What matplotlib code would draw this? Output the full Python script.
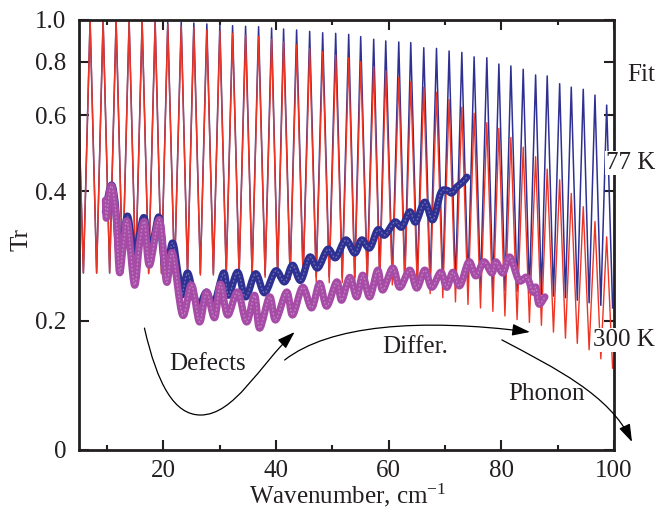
import matplotlib
matplotlib.use("Agg")
import numpy as np
import matplotlib.pyplot as plt
from matplotlib.path import Path
from matplotlib.patches import FancyArrowPatch, PathPatch
from matplotlib.ticker import FixedLocator, FixedFormatter, MultipleLocator, NullLocator

plt.rcParams['font.family'] = ['Liberation Serif', 'DejaVu Serif']
plt.rcParams['mathtext.fontset'] = 'custom'
plt.rcParams['mathtext.rm'] = 'Liberation Serif'
plt.rcParams['mathtext.it'] = 'Liberation Serif:italic'

# ---------------- data ----------------
# Fabry-Perot fit curves: positions of the fringe maxima / minima
fit_start_x = 5.0
fit_start_v = 0.58
fit_peak_x = [6.97, 9.28, 11.59, 13.90, 16.21, 18.52, 20.76, 23.15, 25.39, 27.70,
              30.01, 32.27, 34.58, 36.89, 39.20, 41.33, 43.64, 45.96, 48.27, 50.58,
              52.89, 55.02, 57.33, 59.47, 61.78, 63.91, 66.22, 68.48, 70.72, 72.98,
              75.16, 77.42, 79.56, 81.69, 83.88, 86.08, 88.14, 90.35, 92.41, 94.54,
              96.62, 98.70]
fit_trough_x = [5.78, 8.13, 10.44, 12.75, 15.06, 17.37, 19.64, 21.96, 24.27, 26.55,
                28.86, 31.14, 33.43, 35.74, 38.05, 40.27, 42.49, 44.80, 47.12, 49.43,
                51.74, 53.96, 56.18, 58.40, 60.63, 62.85, 65.07, 67.35, 69.60, 71.85,
                74.07, 76.29, 78.49, 80.63, 82.79, 84.98, 87.11, 89.25, 91.38, 93.48,
                95.58, 97.66, 99.75]
fit77_peak_v = [1.0, 1.0, 1.0, 0.998, 0.995, 0.992, 0.990, 0.989, 0.984, 0.979,
                0.974, 0.970, 0.967, 0.965, 0.958, 0.953, 0.948, 0.941, 0.934, 0.931,
                0.926, 0.915, 0.902, 0.894, 0.889, 0.886, 0.862, 0.859, 0.847, 0.841,
                0.821, 0.817, 0.790, 0.782, 0.768, 0.745, 0.741, 0.711, 0.698, 0.690,
                0.669, 0.634]
fit77_trough_v = [0.258, 0.258, 0.258, 0.258, 0.258, 0.258, 0.258, 0.257, 0.257, 0.257,
                  0.257, 0.256, 0.256, 0.256, 0.255, 0.255, 0.254, 0.254, 0.253, 0.253,
                  0.252, 0.252, 0.251, 0.251, 0.250, 0.250, 0.248, 0.246, 0.244, 0.242,
                  0.240, 0.238, 0.236, 0.235, 0.234, 0.232, 0.230, 0.228, 0.226, 0.223,
                  0.220, 0.217, 0.214]
fit300_peak_v = [1.0, 1.0, 0.997, 0.995, 0.992, 0.987, 0.977, 0.968, 0.960, 0.948,
                 0.943, 0.931, 0.921, 0.915, 0.902, 0.890, 0.875, 0.859, 0.844, 0.829,
                 0.817, 0.800, 0.779, 0.762, 0.736, 0.719, 0.698, 0.679, 0.653, 0.627,
                 0.607, 0.577, 0.560, 0.533, 0.506, 0.481, 0.450, 0.425, 0.395, 0.368,
                 0.340, 0.313]
fit300_trough_v = [0.258, 0.258, 0.258, 0.258, 0.258, 0.257, 0.257, 0.256, 0.256, 0.255,
                   0.255, 0.254, 0.254, 0.253, 0.252, 0.251, 0.249, 0.247, 0.246, 0.245,
                   0.245, 0.244, 0.244, 0.243, 0.242, 0.241, 0.236, 0.231, 0.226, 0.221,
                   0.218, 0.214, 0.210, 0.205, 0.201, 0.198, 0.195, 0.188, 0.182, 0.177,
                   0.171, 0.163, 0.155]

# measured spectra
meas77_x = [9.69, 10.40, 10.93, 11.47, 11.82, 12.18, 12.89, 13.60, 14.31, 14.84,
            15.73, 16.62, 17.51, 18.40, 19.29, 20.36, 21.60, 22.49, 23.20, 24.27,
            25.33, 26.40, 27.64, 28.89, 30.67, 31.56, 33.16, 34.58, 36.36, 37.96,
            39.91, 41.51, 42.93, 44.36, 45.96, 47.38, 49.16, 50.58, 52.36, 53.96,
            55.20, 56.62, 58.04, 59.29, 61.07, 62.31, 63.73, 64.80, 66.40, 67.82,
            69.24, 70.31, 71.20, 72.09, 73.16, 73.87]
meas77_v = [0.358, 0.402, 0.411, 0.371, 0.316, 0.284, 0.311, 0.350, 0.308, 0.265,
            0.316, 0.346, 0.280, 0.316, 0.346, 0.262, 0.303, 0.262, 0.229, 0.258,
            0.229, 0.217, 0.233, 0.217, 0.258, 0.229, 0.259, 0.227, 0.257, 0.232,
            0.261, 0.246, 0.269, 0.248, 0.281, 0.265, 0.293, 0.280, 0.308, 0.287,
            0.308, 0.295, 0.325, 0.316, 0.339, 0.330, 0.358, 0.339, 0.377, 0.343,
            0.396, 0.402, 0.396, 0.409, 0.420, 0.431]
meas300_x = [9.69, 9.87, 10.40, 10.93, 11.64, 12.18, 12.89, 13.60, 14.84, 15.73,
             16.62, 17.51, 19.29, 20.53, 21.60, 23.38, 24.98, 26.40, 27.64, 29.07,
             30.13, 31.38, 33.16, 34.76, 36.18, 37.07, 38.84, 39.91, 41.87, 42.93,
             44.71, 46.31, 47.73, 48.98, 50.76, 51.64, 53.07, 54.31, 55.38, 56.62,
             58.04, 58.93, 60.71, 61.96, 63.73, 64.98, 66.40, 67.64, 69.24, 70.31,
             71.38, 72.62, 74.22, 75.47, 76.89, 78.31, 79.02, 80.27, 81.51, 83.11,
             84.53, 85.60, 86.13, 86.67, 87.73]
meas300_v = [0.381, 0.346, 0.398, 0.407, 0.343, 0.259, 0.300, 0.339, 0.242, 0.300,
             0.339, 0.269, 0.343, 0.246, 0.287, 0.206, 0.242, 0.1985, 0.233, 0.203,
             0.243, 0.206, 0.233, 0.1985, 0.229, 0.192, 0.227, 0.2006, 0.233, 0.206,
             0.239, 0.214, 0.244, 0.216, 0.246, 0.223, 0.252, 0.227, 0.255, 0.227,
             0.262, 0.2355, 0.265, 0.239, 0.262, 0.238, 0.262, 0.239, 0.259, 0.239,
             0.259, 0.241, 0.274, 0.254, 0.274, 0.258, 0.274, 0.258, 0.281, 0.248,
             0.252, 0.233, 0.239, 0.2185, 0.227]

x_ticks = [20, 40, 60, 80, 100]
y_ticks = [0.1, 0.2, 0.4, 0.6, 0.8, 1.0]
y_tick_labels = ['0', '0.2', '0.4', '0.6', '0.8', '1.0']

# ---------------- figure ----------------
RED = '#ee3524'
BLUE = '#2e3192'
PURPLE = '#a64ca6'
INK = '#231f20'
FS = 18

fig = plt.figure(figsize=(6.59, 5.13), dpi=100)
ax = fig.add_axes([79 / 659, 63 / 513, 535 / 659, 430 / 513])


def zigzag(sx, sv, px, pv, tx, tv):
    xs, vs = [sx], [sv]
    for i in range(len(tx)):
        xs.append(tx[i]); vs.append(tv[i])
        if i < len(px):
            xs.append(px[i]); vs.append(pv[i])
    return xs, vs


def smooth_path(xs, vs):
    """Catmull-Rom curve through the read points, built in (x, log10 v) space."""
    X = np.asarray(xs, float)
    Y = np.log10(np.asarray(vs, float))
    n = len(X)
    verts = [(X[0], Y[0])]
    codes = [Path.MOVETO]
    for i in range(n - 1):
        im, ip = max(i - 1, 0), min(i + 2, n - 1)
        c1 = (X[i] + (X[i + 1] - X[im]) / 6, Y[i] + (Y[i + 1] - Y[im]) / 6)
        c2 = (X[i + 1] - (X[ip] - X[i]) / 6, Y[i + 1] - (Y[ip] - Y[i]) / 6)
        verts += [c1, c2, (X[i + 1], Y[i + 1])]
        codes += [Path.CURVE4] * 3
    verts = [(x, 10 ** y) for x, y in verts]
    return Path(verts, codes)


bx, bv = zigzag(fit_start_x, fit_start_v, fit_peak_x, fit77_peak_v, fit_trough_x, fit77_trough_v)
rx, rv = zigzag(fit_start_x, fit_start_v, fit_peak_x, fit300_peak_v, fit_trough_x, fit300_trough_v)
ax.plot(bx, bv, color=BLUE, lw=1.1, zorder=2)
ax.plot(rx, rv, color=RED, lw=1.0, zorder=2.1)

for xs, vs, col, z in [(meas77_x, meas77_v, BLUE, 3), (meas300_x, meas300_v, PURPLE, 3.5)]:
    p = smooth_path(xs, vs)
    ax.add_patch(PathPatch(p, fill=False, edgecolor=col, lw=5.2, capstyle='round',
                           joinstyle='round', zorder=z))
    ax.add_patch(PathPatch(p, fill=False, edgecolor='white', lw=0.9, alpha=0.3,
                           linestyle=(0, (1.5, 1.5)), zorder=z + 0.1))

ax.set_yscale('log')
ax.set_xlim(5, 100)
ax.set_ylim(0.1, 1.0)
ax.xaxis.set_major_locator(FixedLocator(x_ticks))
ax.xaxis.set_minor_locator(MultipleLocator(10))
ax.yaxis.set_major_locator(FixedLocator(y_ticks))
ax.yaxis.set_major_formatter(FixedFormatter(y_tick_labels))
ax.yaxis.set_minor_locator(NullLocator())
ax.tick_params(which='both', direction='in', top=True, right=True, colors=INK,
               labelsize=FS, width=1.5)
ax.tick_params(which='major', length=7)
ax.tick_params(which='minor', length=3.5)
ax.tick_params(axis='x', pad=7)
ax.tick_params(axis='y', pad=9)
for sp in ax.spines.values():
    sp.set_linewidth(2.0)
    sp.set_color(INK)

# axis labels
fig.text(22 / 659, 1 - 240 / 513, 'Tr', rotation=90, ha='center', va='center', fontsize=FS, color=INK)
fig.text(348 / 659, 1 - 495 / 513, 'Wavenumber, cm$^{-1}$', ha='center', va='center', fontsize=FS, color=INK)

# side labels
ax.text(1.024, 0.873, 'Fit', transform=ax.transAxes, ha='left', va='center', fontsize=FS, color=INK, clip_on=False)
ax.text(0.985, 0.667, '77 K', transform=ax.transAxes, ha='left', va='center', fontsize=FS, color=INK,
        clip_on=False, bbox=dict(facecolor='white', edgecolor='none', pad=0.5), zorder=5)
ax.text(0.960, 0.256, '300 K', transform=ax.transAxes, ha='left', va='center', fontsize=FS, color=INK,
        clip_on=False, bbox=dict(facecolor='white', edgecolor='none', pad=0.5), zorder=5)
ax.text(0.168, 0.200, 'Defects', transform=ax.transAxes, ha='left', va='center', fontsize=FS, color=INK)
ax.text(0.566, 0.240, 'Differ.', transform=ax.transAxes, ha='left', va='center', fontsize=FS, color=INK)
ax.text(0.802, 0.130, 'Phonon', transform=ax.transAxes, ha='left', va='center', fontsize=FS, color=INK)

# curved arrows (data coordinates)
C = Path.CURVE4
arrows = [
    ([(16.62, 0.1921), (18.93, 0.1416), (21.96, 0.1206), (26.58, 0.1206),
      (32.62, 0.1206), (37.07, 0.1576), (43.29, 0.1881)],
     [Path.MOVETO, C, C, C, C, C, C]),
    ([(41.51, 0.1619), (49.51, 0.1953), (65.51, 0.2028), (85.07, 0.1881)],
     [Path.MOVETO, C, C, C]),
    ([(80.09, 0.1803), (89.51, 0.1551), (99.29, 0.1342), (103.2, 0.1044)],
     [Path.MOVETO, C, C, C]),
]
for verts, codes in arrows:
    ap = FancyArrowPatch(path=Path(verts, codes), arrowstyle='-|>,head_length=0.9,head_width=0.3',
                         mutation_scale=12, lw=0.9, color='black', transform=ax.transData, zorder=4)
    ax.add_patch(ap)
    ap.set_clip_on(False)

fig.savefig('out.png', dpi=100)
